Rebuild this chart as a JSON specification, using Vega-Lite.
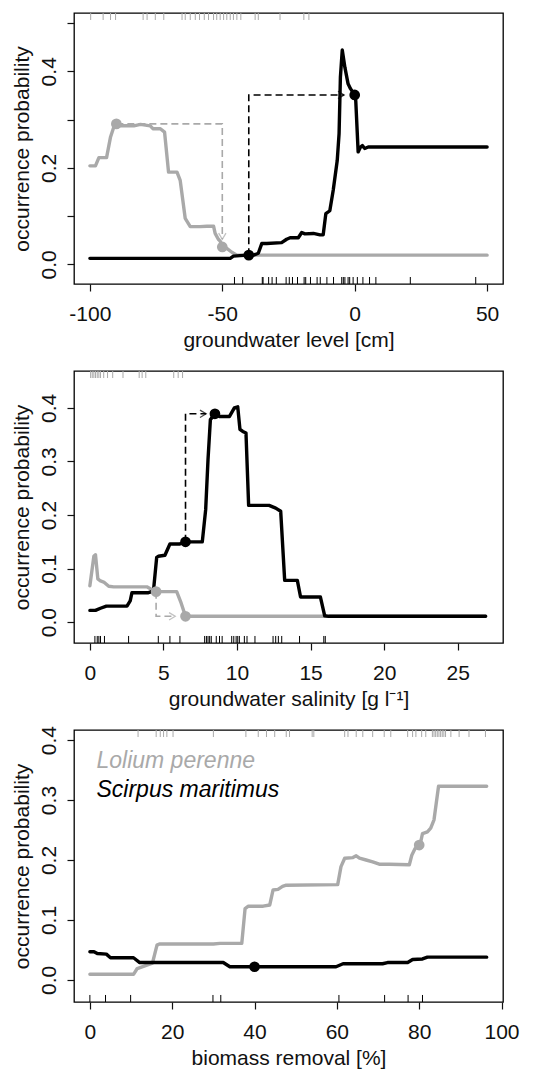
{
  "$schema": "https://vega.github.io/schema/vega-lite/v6.json",
  "autosize": {"type": "none"},
  "padding": {"left": 74, "top": 13, "right": 465, "bottom": 1058},
  "bounds": "flush",
  "spacing": 87,
  "config": {
    "font": "Liberation Sans",
    "view": {"stroke": "#000", "strokeWidth": 1.3},
    "axis": {"domain": false, "grid": false, "labelFontSize": 21, "titleFontSize": 21, "titleFontWeight": "normal", "labelColor": "#111", "titleColor": "#111", "tickColor": "#111", "tickSize": 7, "tickWidth": 1.2, "labelFlush": false, "labelOverlap": false},
    "axisX": {"labelPadding": 12, "titlePadding": 5},
    "axisY": {"labelAngle": -90, "labelAlign": "center", "labelBaseline": "alphabetic", "labelPadding": 12, "titlePadding": 6}
  },
  "datasets": {
    "l1": [
      {"sp":"L","x":-100,"p":0.204},{"sp":"L","x":-97.9,"p":0.204},{"sp":"L","x":-96.6,"p":0.221},{"sp":"L","x":-93.7,"p":0.221},{"sp":"L","x":-92.2,"p":0.264},{"sp":"L","x":-91,"p":0.284},{"sp":"L","x":-90,"p":0.291},{"sp":"L","x":-88.5,"p":0.287},{"sp":"L","x":-83.4,"p":0.287},{"sp":"L","x":-80.9,"p":0.29},{"sp":"L","x":-77.2,"p":0.287},{"sp":"L","x":-76.2,"p":0.281},{"sp":"L","x":-73.4,"p":0.281},{"sp":"L","x":-71.8,"p":0.274},{"sp":"L","x":-70.3,"p":0.191},{"sp":"L","x":-67.1,"p":0.191},{"sp":"L","x":-65.9,"p":0.174},{"sp":"L","x":-64,"p":0.095},{"sp":"L","x":-62.1,"p":0.078},{"sp":"L","x":-58.4,"p":0.078},{"sp":"L","x":-55.8,"p":0.079},{"sp":"L","x":-53.3,"p":0.079},{"sp":"L","x":-52.7,"p":0.064},{"sp":"L","x":-51.5,"p":0.052},{"sp":"L","x":-50.8,"p":0.048},{"sp":"L","x":-50,"p":0.036},{"sp":"L","x":-48.3,"p":0.033},{"sp":"L","x":-46.4,"p":0.025},{"sp":"L","x":-44.5,"p":0.019},{"sp":"L","x":50,"p":0.019},
      {"sp":"S","x":-100,"p":0.0124},{"sp":"S","x":-47,"p":0.0124},{"sp":"S","x":-45.8,"p":0.017},{"sp":"S","x":-43.3,"p":0.018},{"sp":"S","x":-40,"p":0.019},{"sp":"S","x":-38.2,"p":0.019},{"sp":"S","x":-36.4,"p":0.023},{"sp":"S","x":-35.1,"p":0.043},{"sp":"S","x":-33.2,"p":0.043},{"sp":"S","x":-27.6,"p":0.045},{"sp":"S","x":-25.7,"p":0.052},{"sp":"S","x":-24.4,"p":0.055},{"sp":"S","x":-21.3,"p":0.055},{"sp":"S","x":-20,"p":0.066},{"sp":"S","x":-18.8,"p":0.063},{"sp":"S","x":-15.6,"p":0.064},{"sp":"S","x":-13.1,"p":0.061},{"sp":"S","x":-11.9,"p":0.061},{"sp":"S","x":-10.9,"p":0.105},{"sp":"S","x":-9.4,"p":0.111},{"sp":"S","x":-8.1,"p":0.154},{"sp":"S","x":-6.6,"p":0.215},{"sp":"S","x":-5.9,"p":0.271},{"sp":"S","x":-5.4,"p":0.388},{"sp":"S","x":-4.7,"p":0.444},{"sp":"S","x":-3.7,"p":0.408},{"sp":"S","x":-2.5,"p":0.374},{"sp":"S","x":-1.6,"p":0.364},{"sp":"S","x":0,"p":0.351},{"sp":"S","x":0.4,"p":0.339},{"sp":"S","x":1.3,"p":0.233},{"sp":"S","x":2.2,"p":0.243},{"sp":"S","x":2.9,"p":0.246},{"sp":"S","x":3.8,"p":0.24},{"sp":"S","x":5.1,"p":0.243},{"sp":"S","x":50,"p":0.243}
    ],
    "r1": [
      {"sp":"L","x":-99.7},{"sp":"L","x":-95},{"sp":"L","x":-92.2},{"sp":"L","x":-90.3},{"sp":"L","x":-79.9},{"sp":"L","x":-78.4},{"sp":"L","x":-75.3},{"sp":"L","x":-72.1},{"sp":"L","x":-65.2},{"sp":"L","x":-64},{"sp":"L","x":-62.1},{"sp":"L","x":-60.2},{"sp":"L","x":-58.6},{"sp":"L","x":-56.8},{"sp":"L","x":-55.2},{"sp":"L","x":-53.3},{"sp":"L","x":-52.1},{"sp":"L","x":-50.8},{"sp":"L","x":-49.5},{"sp":"L","x":-48.3},{"sp":"L","x":-47},{"sp":"L","x":-45.8},{"sp":"L","x":-44.5},{"sp":"L","x":-43},{"sp":"L","x":-37.6},{"sp":"L","x":-36.4},{"sp":"L","x":-28.2},{"sp":"L","x":-19.2},{"sp":"L","x":-17.3},
      {"sp":"S","x":-45.4},{"sp":"S","x":-42.3},{"sp":"S","x":-34.9},{"sp":"S","x":-34.6},{"sp":"S","x":-32.5},{"sp":"S","x":-31.2},{"sp":"S","x":-29.6},{"sp":"S","x":-25.9},{"sp":"S","x":-24.7},{"sp":"S","x":-23.5},{"sp":"S","x":-21.6},{"sp":"S","x":-19.1},{"sp":"S","x":-18.5},{"sp":"S","x":-16.7},{"sp":"S","x":-14.2},{"sp":"S","x":-13},{"sp":"S","x":-10.5},{"sp":"S","x":-8},{"sp":"S","x":-4.9},{"sp":"S","x":-4.3},{"sp":"S","x":-3.7},{"sp":"S","x":-2.5},{"sp":"S","x":-1.9},{"sp":"S","x":-0.6},{"sp":"S","x":1},{"sp":"S","x":3.1},{"sp":"S","x":5.6},{"sp":"S","x":8},{"sp":"S","x":21},{"sp":"S","x":45.7}
    ],
    "a1": [
      {"sp":"L","o":1,"x":-90,"p":0.291},{"sp":"L","o":2,"x":-50,"p":0.291},{"sp":"L","o":3,"x":-50,"p":0.052},
      {"sp":"S","o":1,"x":-40,"p":0.019},{"sp":"S","o":2,"x":-40,"p":0.351},{"sp":"S","o":3,"x":-4,"p":0.351}
    ],
    "h1": [{"sp":"L","x":-50,"p":0.052,"dir":"down"},{"sp":"S","x":-4,"p":0.351,"dir":"right"}],
    "p1": [{"sp":"L","x":-90,"p":0.291},{"sp":"L","x":-50,"p":0.036},{"sp":"S","x":-40,"p":0.019},{"sp":"S","x":0,"p":0.351}],
    "l2": [
      {"sp":"L","x":0,"p":0.068},{"sp":"L","x":0.27,"p":0.123},{"sp":"L","x":0.38,"p":0.126},{"sp":"L","x":0.54,"p":0.081},{"sp":"L","x":0.72,"p":0.077},{"sp":"L","x":0.94,"p":0.075},{"sp":"L","x":1.28,"p":0.067},{"sp":"L","x":1.62,"p":0.066},{"sp":"L","x":3.87,"p":0.066},{"sp":"L","x":4.2,"p":0.061},{"sp":"L","x":4.5,"p":0.057},{"sp":"L","x":5.9,"p":0.057},{"sp":"L","x":6.2,"p":0.036},{"sp":"L","x":6.5,"p":0.011},{"sp":"L","x":26.9,"p":0.011},
      {"sp":"S","x":0,"p":0.022},{"sp":"S","x":0.38,"p":0.022},{"sp":"S","x":0.72,"p":0.026},{"sp":"S","x":1.12,"p":0.03},{"sp":"S","x":2.52,"p":0.03},{"sp":"S","x":2.74,"p":0.04},{"sp":"S","x":2.86,"p":0.055},{"sp":"S","x":3.98,"p":0.055},{"sp":"S","x":4.32,"p":0.058},{"sp":"S","x":4.54,"p":0.121},{"sp":"S","x":4.65,"p":0.123},{"sp":"S","x":5.1,"p":0.125},{"sp":"S","x":5.44,"p":0.146},{"sp":"S","x":6.12,"p":0.146},{"sp":"S","x":6.5,"p":0.15},{"sp":"S","x":7.64,"p":0.15},{"sp":"S","x":7.87,"p":0.21},{"sp":"S","x":8.03,"p":0.304},{"sp":"S","x":8.19,"p":0.378},{"sp":"S","x":8.5,"p":0.389},{"sp":"S","x":8.81,"p":0.384},{"sp":"S","x":9.49,"p":0.384},{"sp":"S","x":9.82,"p":0.4},{"sp":"S","x":10.05,"p":0.402},{"sp":"S","x":10.2,"p":0.36},{"sp":"S","x":10.39,"p":0.356},{"sp":"S","x":10.61,"p":0.353},{"sp":"S","x":10.79,"p":0.218},{"sp":"S","x":12.18,"p":0.218},{"sp":"S","x":12.63,"p":0.213},{"sp":"S","x":12.97,"p":0.207},{"sp":"S","x":13.24,"p":0.078},{"sp":"S","x":14.1,"p":0.078},{"sp":"S","x":14.32,"p":0.047},{"sp":"S","x":15.67,"p":0.047},{"sp":"S","x":15.96,"p":0.012},{"sp":"S","x":16.23,"p":0.011},{"sp":"S","x":26.9,"p":0.011}
    ],
    "r2": [
      {"sp":"L","x":0.05},{"sp":"L","x":0.16},{"sp":"L","x":0.27},{"sp":"L","x":0.38},{"sp":"L","x":0.5},{"sp":"L","x":0.61},{"sp":"L","x":0.72},{"sp":"L","x":0.94},{"sp":"L","x":1.2},{"sp":"L","x":1.55},{"sp":"L","x":2.25},{"sp":"L","x":3.35},{"sp":"L","x":3.55},{"sp":"L","x":3.8},{"sp":"L","x":5.7},{"sp":"L","x":6},{"sp":"L","x":6.3},
      {"sp":"S","x":0.34},{"sp":"S","x":0.5},{"sp":"S","x":0.61},{"sp":"S","x":0.72},{"sp":"S","x":0.99},{"sp":"S","x":2.63},{"sp":"S","x":4.65},{"sp":"S","x":5.44},{"sp":"S","x":6.12},{"sp":"S","x":7.8},{"sp":"S","x":7.92},{"sp":"S","x":8.03},{"sp":"S","x":8.14},{"sp":"S","x":8.25},{"sp":"S","x":8.59},{"sp":"S","x":8.81},{"sp":"S","x":8.99},{"sp":"S","x":9.64},{"sp":"S","x":9.78},{"sp":"S","x":9.94},{"sp":"S","x":10.05},{"sp":"S","x":10.16},{"sp":"S","x":10.5},{"sp":"S","x":10.68},{"sp":"S","x":11.22},{"sp":"S","x":12.45},{"sp":"S","x":12.63},{"sp":"S","x":12.81},{"sp":"S","x":13.04},{"sp":"S","x":14.25},{"sp":"S","x":15.9},{"sp":"S","x":16}
    ],
    "a2": [
      {"sp":"L","o":1,"x":4.5,"p":0.057},{"sp":"L","o":2,"x":4.5,"p":0.011},{"sp":"L","o":3,"x":5.8,"p":0.011},
      {"sp":"S","o":1,"x":6.5,"p":0.15},{"sp":"S","o":2,"x":6.5,"p":0.389},{"sp":"S","o":3,"x":7.9,"p":0.389}
    ],
    "h2": [{"sp":"L","x":5.8,"p":0.011,"dir":"right"},{"sp":"S","x":7.9,"p":0.389,"dir":"right"}],
    "p2": [{"sp":"L","x":4.5,"p":0.057},{"sp":"L","x":6.5,"p":0.011},{"sp":"S","x":6.5,"p":0.15},{"sp":"S","x":8.5,"p":0.389}],
    "l3": [
      {"sp":"L","x":0,"p":0.0094},{"sp":"L","x":10.6,"p":0.0094},{"sp":"L","x":11.5,"p":0.019},{"sp":"L","x":15.2,"p":0.028},{"sp":"L","x":16.3,"p":0.058},{"sp":"L","x":16.9,"p":0.06},{"sp":"L","x":30,"p":0.06},{"sp":"L","x":31.6,"p":0.061},{"sp":"L","x":36.9,"p":0.061},{"sp":"L","x":37.7,"p":0.119},{"sp":"L","x":38.5,"p":0.123},{"sp":"L","x":42.1,"p":0.123},{"sp":"L","x":43.7,"p":0.125},{"sp":"L","x":44.5,"p":0.15},{"sp":"L","x":45.7,"p":0.151},{"sp":"L","x":46.8,"p":0.156},{"sp":"L","x":47.7,"p":0.158},{"sp":"L","x":60.2,"p":0.159},{"sp":"L","x":61,"p":0.189},{"sp":"L","x":61.9,"p":0.203},{"sp":"L","x":63.9,"p":0.204},{"sp":"L","x":64.7,"p":0.207},{"sp":"L","x":65.5,"p":0.203},{"sp":"L","x":67.1,"p":0.2},{"sp":"L","x":68.7,"p":0.197},{"sp":"L","x":70.3,"p":0.193},{"sp":"L","x":72.7,"p":0.193},{"sp":"L","x":77.6,"p":0.192},{"sp":"L","x":78.2,"p":0.208},{"sp":"L","x":79,"p":0.219},{"sp":"L","x":80.2,"p":0.225},{"sp":"L","x":80.8,"p":0.244},{"sp":"L","x":82,"p":0.247},{"sp":"L","x":82.8,"p":0.253},{"sp":"L","x":83.6,"p":0.267},{"sp":"L","x":84.7,"p":0.323},{"sp":"L","x":96.4,"p":0.323},
      {"sp":"S","x":0,"p":0.047},{"sp":"S","x":1,"p":0.047},{"sp":"S","x":1.8,"p":0.044},{"sp":"S","x":4,"p":0.043},{"sp":"S","x":5,"p":0.037},{"sp":"S","x":10.6,"p":0.037},{"sp":"S","x":12.1,"p":0.029},{"sp":"S","x":32.4,"p":0.029},{"sp":"S","x":34,"p":0.022},{"sp":"S","x":40,"p":0.022},{"sp":"S","x":59.8,"p":0.022},{"sp":"S","x":61.5,"p":0.027},{"sp":"S","x":71.1,"p":0.027},{"sp":"S","x":72.3,"p":0.029},{"sp":"S","x":77.2,"p":0.029},{"sp":"S","x":78.4,"p":0.034},{"sp":"S","x":80.8,"p":0.035},{"sp":"S","x":82,"p":0.038},{"sp":"S","x":96.4,"p":0.038}
    ],
    "r3": [
      {"sp":"L","x":11.7},{"sp":"L","x":16.1},{"sp":"L","x":17.1},{"sp":"L","x":17.9},{"sp":"L","x":18.7},{"sp":"L","x":20.2},{"sp":"L","x":30},{"sp":"L","x":37.9},{"sp":"L","x":40.9},{"sp":"L","x":42.9},{"sp":"L","x":44.9},{"sp":"L","x":47.7},{"sp":"L","x":48.5},{"sp":"L","x":54},{"sp":"L","x":54.4},{"sp":"L","x":61.9},{"sp":"L","x":62.7},{"sp":"L","x":64.7},{"sp":"L","x":66.3},{"sp":"L","x":68.7},{"sp":"L","x":71.5},{"sp":"L","x":73.1},{"sp":"L","x":77.2},{"sp":"L","x":78.4},{"sp":"L","x":79.2},{"sp":"L","x":80.6},{"sp":"L","x":81.6},{"sp":"L","x":83.2},{"sp":"L","x":83.6},{"sp":"L","x":84},{"sp":"L","x":84.4},{"sp":"L","x":84.8},{"sp":"L","x":85.2},{"sp":"L","x":85.6},{"sp":"L","x":86},{"sp":"L","x":86.4},{"sp":"L","x":87.7},{"sp":"L","x":89.7},{"sp":"L","x":92.1},{"sp":"L","x":96.1},
      {"sp":"S","x":0},{"sp":"S","x":3.8},{"sp":"S","x":9.9},{"sp":"S","x":29.9},{"sp":"S","x":31.8},{"sp":"S","x":60.5},{"sp":"S","x":71.6},{"sp":"S","x":77.3},{"sp":"S","x":80.8}
    ],
    "p3": [{"sp":"L","x":80,"p":0.225},{"sp":"S","x":40,"p":0.022}],
    "leg": [{"label":"Lolium perenne","sp":"L"},{"label":"Scirpus maritimus","sp":"S"}]
  },
  "vconcat": [
    {
      "width": 429, "height": 271,
      "layer": [
        {"data": {"name": "l1"}, "mark": {"type": "line", "strokeWidth": 3.4, "strokeJoin": "round", "strokeCap": "round"},
         "encoding": {
          "x": {"field": "x", "type": "quantitative", "scale": {"domain": [-106, 56], "nice": false, "zero": false}, "axis": {"values": [-100, -50, 0, 50], "labelExpr": "'' + datum.value", "title": "groundwater level [cm]"}},
          "y": {"field": "p", "type": "quantitative", "scale": {"domain": [-0.0408, 0.5208], "nice": false, "zero": false}, "axis": {"values": [0, 0.1, 0.2, 0.3, 0.4, 0.5], "labelExpr": "indexof([0,2,4], round(datum.value*10)) >= 0 ? format(datum.value, '.1f') : ''", "title": "occurrence probability"}},
          "color": {"field": "sp", "type": "nominal", "scale": {"domain": ["L", "S"], "range": ["#a9a9a9", "#000000"]}, "legend": null}}},
        {"data": {"name": "r1"}, "transform": [{"filter": "datum.sp == 'L'"}], "mark": {"type": "rule", "color": "#a9a9a9", "strokeWidth": 1},
         "encoding": {"x": {"field": "x", "type": "quantitative"}, "y": {"datum": 0.5208, "type": "quantitative"}, "y2": {"datum": 0.5063}}},
        {"data": {"name": "r1"}, "transform": [{"filter": "datum.sp == 'S'"}], "mark": {"type": "rule", "color": "#000", "strokeWidth": 1},
         "encoding": {"x": {"field": "x", "type": "quantitative"}, "y": {"datum": -0.0408, "type": "quantitative"}, "y2": {"datum": -0.0263}}},
        {"data": {"name": "a1"}, "mark": {"type": "line", "strokeWidth": 1.6, "strokeDash": [7, 4]},
         "encoding": {"x": {"field": "x", "type": "quantitative"}, "y": {"field": "p", "type": "quantitative"}, "order": {"field": "o"}, "color": {"field": "sp", "type": "nominal", "legend": null}}},
        {"data": {"name": "h1"}, "mark": {"type": "point", "filled": false, "size": 150, "strokeWidth": 1.3},
         "encoding": {"x": {"field": "x", "type": "quantitative"}, "y": {"field": "p", "type": "quantitative"}, "shape": {"field": "dir", "type": "nominal", "scale": {"domain": ["right", "down"], "range": ["M -1 -0.6 L 0 0 L -1 0.6", "M -0.6 -1 L 0 0 L 0.6 -1"]}, "legend": null}, "color": {"field": "sp", "type": "nominal", "legend": null}}},
        {"data": {"name": "p1"}, "mark": {"type": "point", "filled": true, "size": 115, "opacity": 1},
         "encoding": {"x": {"field": "x", "type": "quantitative"}, "y": {"field": "p", "type": "quantitative"}, "color": {"field": "sp", "type": "nominal", "legend": null}}}
      ]
    },
    {
      "width": 429, "height": 272,
      "layer": [
        {"data": {"name": "l2"}, "mark": {"type": "line", "strokeWidth": 3.4, "strokeJoin": "round", "strokeCap": "round"},
         "encoding": {
          "x": {"field": "x", "type": "quantitative", "scale": {"domain": [-1.08, 28.08], "nice": false, "zero": false}, "axis": {"values": [0, 5, 10, 15, 20, 25], "labelExpr": "'' + datum.value", "title": "groundwater salinity [g l⁻¹]"}},
          "y": {"field": "p", "type": "quantitative", "scale": {"domain": [-0.0388, 0.4688], "nice": false, "zero": false}, "axis": {"values": [0, 0.1, 0.2, 0.3, 0.4], "format": ".1f", "title": "occurrence probability"}},
          "color": {"field": "sp", "type": "nominal", "scale": {"domain": ["L", "S"], "range": ["#a9a9a9", "#000000"]}, "legend": null}}},
        {"data": {"name": "r2"}, "transform": [{"filter": "datum.sp == 'L'"}], "mark": {"type": "rule", "color": "#a9a9a9", "strokeWidth": 1},
         "encoding": {"x": {"field": "x", "type": "quantitative"}, "y": {"datum": 0.4688, "type": "quantitative"}, "y2": {"datum": 0.4557}}},
        {"data": {"name": "r2"}, "transform": [{"filter": "datum.sp == 'S'"}], "mark": {"type": "rule", "color": "#000", "strokeWidth": 1},
         "encoding": {"x": {"field": "x", "type": "quantitative"}, "y": {"datum": -0.0388, "type": "quantitative"}, "y2": {"datum": -0.0257}}},
        {"data": {"name": "a2"}, "mark": {"type": "line", "strokeWidth": 1.6, "strokeDash": [7, 4]},
         "encoding": {"x": {"field": "x", "type": "quantitative"}, "y": {"field": "p", "type": "quantitative"}, "order": {"field": "o"}, "color": {"field": "sp", "type": "nominal", "legend": null}}},
        {"data": {"name": "h2"}, "mark": {"type": "point", "filled": false, "size": 150, "strokeWidth": 1.3},
         "encoding": {"x": {"field": "x", "type": "quantitative"}, "y": {"field": "p", "type": "quantitative"}, "shape": {"field": "dir", "type": "nominal", "scale": {"domain": ["right", "down"], "range": ["M -1 -0.6 L 0 0 L -1 0.6", "M -0.6 -1 L 0 0 L 0.6 -1"]}, "legend": null}, "color": {"field": "sp", "type": "nominal", "legend": null}}},
        {"data": {"name": "p2"}, "mark": {"type": "point", "filled": true, "size": 115, "opacity": 1},
         "encoding": {"x": {"field": "x", "type": "quantitative"}, "y": {"field": "p", "type": "quantitative"}, "color": {"field": "sp", "type": "nominal", "legend": null}}}
      ]
    },
    {
      "width": 429, "height": 272,
      "layer": [
        {"data": {"name": "l3"}, "mark": {"type": "line", "strokeWidth": 3.4, "strokeJoin": "round", "strokeCap": "round"},
         "encoding": {
          "x": {"field": "x", "type": "quantitative", "scale": {"domain": [-3.86, 100.36], "nice": false, "zero": false}, "axis": {"values": [0, 20, 40, 60, 80, 100], "labelExpr": "'' + datum.value", "title": "biomass removal [%]"}},
          "y": {"field": "p", "type": "quantitative", "scale": {"domain": [-0.0368, 0.4168], "nice": false, "zero": false}, "axis": {"values": [0, 0.1, 0.2, 0.3, 0.4], "format": ".1f", "title": "occurrence probability"}},
          "color": {"field": "sp", "type": "nominal", "scale": {"domain": ["L", "S"], "range": ["#a9a9a9", "#000000"]}, "legend": null}}},
        {"data": {"name": "r3"}, "transform": [{"filter": "datum.sp == 'L'"}], "mark": {"type": "rule", "color": "#a9a9a9", "strokeWidth": 1},
         "encoding": {"x": {"field": "x", "type": "quantitative"}, "y": {"datum": 0.4168, "type": "quantitative"}, "y2": {"datum": 0.4051}}},
        {"data": {"name": "r3"}, "transform": [{"filter": "datum.sp == 'S'"}], "mark": {"type": "rule", "color": "#000", "strokeWidth": 1},
         "encoding": {"x": {"field": "x", "type": "quantitative"}, "y": {"datum": -0.0368, "type": "quantitative"}, "y2": {"datum": -0.0251}}},
        {"data": {"name": "p3"}, "mark": {"type": "point", "filled": true, "size": 115, "opacity": 1},
         "encoding": {"x": {"field": "x", "type": "quantitative"}, "y": {"field": "p", "type": "quantitative"}, "color": {"field": "sp", "type": "nominal", "legend": null}}},
        {"data": {"name": "leg"}, "transform": [{"filter": "datum.sp == 'L'"}], "mark": {"type": "text", "align": "left", "baseline": "alphabetic", "fontSize": 23, "fontStyle": "italic", "color": "#a9a9a9"},
         "encoding": {"x": {"datum": 1.6, "type": "quantitative"}, "y": {"datum": 0.353, "type": "quantitative"}, "text": {"field": "label"}}},
        {"data": {"name": "leg"}, "transform": [{"filter": "datum.sp == 'S'"}], "mark": {"type": "text", "align": "left", "baseline": "alphabetic", "fontSize": 23, "fontStyle": "italic", "color": "#000"},
         "encoding": {"x": {"datum": 1.6, "type": "quantitative"}, "y": {"datum": 0.305, "type": "quantitative"}, "text": {"field": "label"}}}
      ]
    }
  ]
}
